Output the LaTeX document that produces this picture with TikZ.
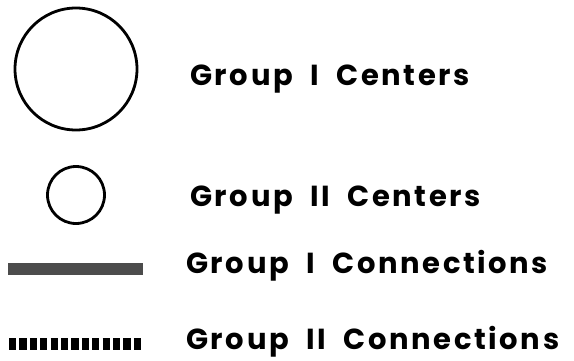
\documentclass[tikz,border=0pt]{standalone}
\usepackage{fontspec}
\newfontfamily\labfont[LetterSpace=9,WordSpace=2.0]{Poppins}
\begin{document}
\begin{tikzpicture}[x=1pt,y=-1pt,
  lab/.style={anchor=base west,inner sep=0pt,font=\labfont\fontsize{29}{32}\selectfont\bfseries},
  ring/.style={circle,draw=black,line width=2.8pt,inner sep=0pt},
  barone/.style={line width=12pt,draw=black!70},
  bartwo/.style={line width=12pt,draw=black,dash pattern=on 7.2pt off 3.2pt}]
\useasboundingbox (0,0) rectangle (574,360);
\node[ring,minimum size=122pt] (c1) at (76,69) {};
\node[ring,minimum size=57pt] (c2) at (76,195) {};
\coordinate (b1s) at (8,269);
\coordinate (b1e) at (143,269);
\draw[barone] (b1s) -- (b1e);
\coordinate (b2s) at (9,344);
\coordinate (b2e) at (143,344);
\draw[bartwo] (b2s) -- (b2e);
\node[lab] (t1) at (190,85) {Group I Centers};
\node[lab] (t2) at (190,206) {Group II Centers};
\node[lab] (t3) at (186,273) {Group I Connections};
\node[lab] (t4) at (186,349) {Group II Connections};
\end{tikzpicture}
\end{document}
